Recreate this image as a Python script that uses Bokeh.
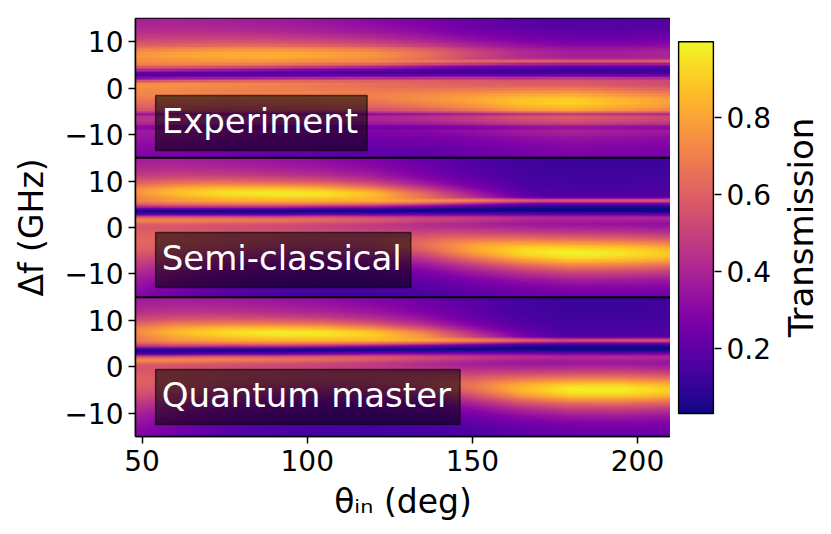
import numpy as np
from bokeh.plotting import figure
from bokeh.models import LinearColorMapper, FixedTicker, Span, Label, Range1d
from bokeh.layouts import row
from bokeh.palettes import Plasma256
from bokeh.embed import file_html
from bokeh.resources import INLINE

# ---------------- data ----------------
theta_knots = [48, 60, 75, 90, 105, 120, 135, 150, 165, 180, 195, 210]
x_ticks = [50, 100, 150, 200]
f_ticks = [-10, 0, 10]
cbar_ticks = [0.2, 0.4, 0.6, 0.8]
panel_names = ["Experiment", "Semi-classical", "Quantum master"]
label_bottoms = [61.6, 32.1, 2.6]

# Experiment
exp_top_bg = [0.30, 0.30, 0.29, 0.27, 0.25, 0.22, 0.19, 0.15, 0.12, 0.10, 0.10, 0.11]
exp_bot_bg = [0.22, 0.20, 0.17, 0.15, 0.13, 0.12, 0.12, 0.14, 0.16, 0.18, 0.18, 0.18]
exp_up_peak = [0.76, 0.79, 0.82, 0.83, 0.80, 0.76, 0.66, 0.52, 0.42, 0.38, 0.38, 0.40]
exp_up_center = [7.2, 7.2, 7.2, 7.2, 7.2, 7.2, 7.3, 7.4, 7.5, 7.5, 7.5, 7.5]
exp_up_gamma = [2.6, 2.6, 2.6, 2.6, 2.6, 2.6, 2.5, 2.5, 2.5, 2.5, 2.5, 2.5]
exp_line_amp = [0.05, 0.05, 0.05, 0.05, 0.06, 0.10, 0.14, 0.20, 0.24, 0.25, 0.25, 0.25]
exp_line_center = [5.3, 5.3, 5.3, 5.3, 5.4, 5.4, 5.5, 5.5, 5.6, 5.6, 5.6, 5.6]
exp_gap_center = [2.8, 2.9, 3.0, 3.1, 3.2, 3.3, 3.4, 3.5, 3.5, 3.6, 3.6, 3.6]
exp_edge_amp = [0.10, 0.10, 0.10, 0.10, 0.10, 0.10, 0.10, 0.10, 0.10, 0.10, 0.10, 0.10]
exp_lo_peak = [0.72, 0.72, 0.70, 0.70, 0.70, 0.70, 0.74, 0.80, 0.88, 0.91, 0.85, 0.79]
exp_lo_center = [-1.0, -1.0, -1.2, -1.5, -1.8, -2.0, -2.3, -2.6, -2.9, -3.0, -3.0, -3.0]
exp_lo_gamma = [5.5, 5.5, 5.2, 5.0, 4.8, 4.6, 4.4, 4.3, 4.2, 4.2, 4.2, 4.2]
exp_dark_lines = [-5.7, -8.4]

# Semi-classical
semi_top_bg = [0.28, 0.28, 0.26, 0.24, 0.22, 0.20, 0.16, 0.12, 0.09, 0.08, 0.08, 0.09]
semi_bot_bg = [0.20, 0.15, 0.10, 0.08, 0.07, 0.07, 0.08, 0.09, 0.10, 0.10, 0.11, 0.12]
semi_up_peak = [0.75, 0.86, 0.94, 0.97, 0.95, 0.86, 0.65, 0.42, 0.22, 0.12, 0.10, 0.10]
semi_up_center = [7.6, 7.5, 7.4, 7.3, 7.2, 7.0, 6.7, 6.4, 6.2, 6.0, 6.0, 6.0]
semi_up_gamma = [2.8, 2.7, 2.6, 2.5, 2.5, 2.4, 2.3, 2.2, 2.0, 2.0, 2.0, 2.0]
semi_line_amp = [0.05, 0.05, 0.05, 0.05, 0.05, 0.10, 0.18, 0.30, 0.38, 0.40, 0.40, 0.40]
semi_line_center = [5.6, 5.6, 5.6, 5.6, 5.6, 5.6, 5.6, 5.7, 5.7, 5.7, 5.7, 5.7]
semi_gap_center = [3.4, 3.4, 3.4, 3.4, 3.5, 3.5, 3.6, 3.7, 3.8, 3.8, 3.8, 3.8]
semi_edge_amp = [0.18, 0.18, 0.18, 0.17, 0.16, 0.15, 0.14, 0.14, 0.14, 0.14, 0.14, 0.14]
semi_lo_peak = [0.62, 0.60, 0.57, 0.55, 0.54, 0.55, 0.63, 0.80, 0.93, 0.98, 0.95, 0.88]
semi_lo_center = [-3.5, -3.2, -2.8, -2.5, -2.5, -3.0, -3.8, -4.6, -5.2, -5.6, -5.6, -5.6]
semi_lo_gamma = [6.5, 6.0, 5.5, 5.2, 4.8, 4.5, 4.2, 4.0, 3.9, 3.9, 3.9, 3.9]

# Quantum master
qm_top_bg = [0.28, 0.28, 0.27, 0.25, 0.23, 0.21, 0.18, 0.14, 0.10, 0.08, 0.08, 0.09]
qm_bot_bg = [0.20, 0.15, 0.10, 0.08, 0.07, 0.07, 0.07, 0.08, 0.09, 0.10, 0.11, 0.12]
qm_up_peak = [0.72, 0.85, 0.93, 0.97, 0.96, 0.90, 0.75, 0.50, 0.28, 0.15, 0.12, 0.12]
qm_up_center = [7.5, 7.4, 7.3, 7.2, 7.1, 6.9, 6.6, 6.3, 6.0, 5.9, 5.9, 5.9]
qm_up_gamma = [2.8, 2.7, 2.6, 2.5, 2.5, 2.4, 2.3, 2.1, 1.9, 1.8, 1.8, 1.8]
qm_line_amp = [0.05, 0.05, 0.05, 0.05, 0.05, 0.08, 0.14, 0.26, 0.36, 0.40, 0.40, 0.40]
qm_line_center = [5.6, 5.6, 5.6, 5.6, 5.6, 5.6, 5.6, 5.6, 5.6, 5.6, 5.6, 5.6]
qm_gap_center = [3.3, 3.3, 3.4, 3.4, 3.5, 3.6, 3.7, 3.8, 3.9, 3.9, 3.9, 3.9]
qm_edge_amp = [0.20, 0.20, 0.20, 0.18, 0.17, 0.16, 0.14, 0.14, 0.14, 0.14, 0.14, 0.14]
qm_lo_peak = [0.60, 0.58, 0.55, 0.53, 0.52, 0.52, 0.55, 0.66, 0.85, 0.97, 0.97, 0.90]
qm_lo_center = [-3.5, -3.2, -2.8, -2.5, -2.5, -2.8, -3.4, -4.2, -4.8, -5.0, -5.0, -5.0]
qm_lo_gamma = [6.5, 6.0, 5.5, 5.2, 4.8, 4.5, 4.2, 4.0, 3.8, 3.7, 3.7, 3.7]

theta_min, theta_max = 48, 210
f_min, f_max = -15, 15
c_low, c_high = 0.031, 0.997


def build(top, bot, up_pk, up_c, up_g, line_a, line_c, gap_c, edge_a,
          lo_pk, lo_c, lo_g, gap_s, gap_d, ncol, nrow, dark=()):
    k = np.array(theta_knots, float)
    dth = (theta_max - theta_min) / ncol
    df = (f_max - f_min) / nrow
    th = theta_min + dth * (np.arange(ncol) + 0.5)
    ff = f_min + df * (np.arange(nrow) + 0.5)

    def I(a):
        return np.interp(th, k, np.asarray(a, float))[None, :]

    F = ff[:, None]
    tp, bt = I(top), I(bot)

    def bgat(c):
        return bt + (tp - bt) * (c + 15) / 30

    uc, lc, gc = I(up_c), I(lo_c), I(gap_c)
    ug, lg = I(up_g), I(lo_g)
    # band heights chosen so that each band reaches its read peak value
    du = I(up_pk) - bgat(uc)
    dl = I(lo_pk) - bgat(lc)
    a = 1 / (1 + ((uc - lc) / lg) ** 2)
    b = 1 / (1 + ((lc - uc) / ug) ** 2)
    Au = np.clip((du - a * dl) / (1 - a * b), 0, None)
    Al = np.clip((dl - b * du) / (1 - a * b), 0, None)
    T = bgat(F)
    T = T + Au / (1 + ((F - uc) / ug) ** 2)
    T = T + Al / (1 + ((F - lc) / lg) ** 2)
    T = T + I(line_a) * np.exp(-0.5 * ((F - I(line_c)) / 0.35) ** 2)
    T = T + I(edge_a) * np.exp(-0.5 * ((F - (gc - 1.8)) / 0.6) ** 2)
    T = T * (1 - gap_d * np.exp(-0.5 * ((F - gc) / gap_s) ** 2))
    for d in dark:
        T = T * (1 - 0.3 * np.exp(-0.5 * ((F - d) / 0.35) ** 2))
    return np.clip(T, c_low, c_high)


img_exp = build(exp_top_bg, exp_bot_bg, exp_up_peak, exp_up_center, exp_up_gamma,
                exp_line_amp, exp_line_center, exp_gap_center, exp_edge_amp,
                exp_lo_peak, exp_lo_center, exp_lo_gamma, 0.9, 0.75, 162, 50,
                dark=exp_dark_lines)
img_semi = build(semi_top_bg, semi_bot_bg, semi_up_peak, semi_up_center, semi_up_gamma,
                 semi_line_amp, semi_line_center, semi_gap_center, semi_edge_amp,
                 semi_lo_peak, semi_lo_center, semi_lo_gamma, 0.65, 0.92, 324, 240)
img_qm = build(qm_top_bg, qm_bot_bg, qm_up_peak, qm_up_center, qm_up_gamma,
               qm_line_amp, qm_line_center, qm_gap_center, qm_edge_amp,
               qm_lo_peak, qm_lo_center, qm_lo_gamma, 0.65, 0.92, 324, 240)

FONT = "DejaVu Sans"
mapper = LinearColorMapper(palette=Plasma256, low=c_low, high=c_high)

TOP, BOTTOM, H = 18, 98, 534

p = figure(width=670, height=H, x_range=Range1d(theta_min, theta_max),
           y_range=Range1d(0, 90), output_backend="svg", toolbar_location=None,
           min_border_left=135, min_border_right=0, min_border_top=TOP,
           min_border_bottom=BOTTOM)

offsets = [75, 45, 15]
images = [img_exp, img_semi, img_qm]
for img, off in zip(images, offsets):
    p.image(image=[img], x=theta_min, y=off + f_min, dw=theta_max - theta_min,
            dh=f_max - f_min, color_mapper=mapper)

for yb in (30, 60):
    p.add_layout(Span(location=yb, dimension="width", line_color="black", line_width=2))

p.grid.visible = False
p.outline_line_color = "black"
p.outline_line_width = 1.5
p.outline_line_alpha = 1.0

yt, yl = [], {}
for off in offsets:
    for t in f_ticks:
        yt.append(off + t)
        yl[off + t] = ("\u2212" + str(-t)) if t < 0 else str(t)
p.yaxis.ticker = FixedTicker(ticks=sorted(yt))
p.yaxis.major_label_overrides = yl
p.xaxis.ticker = FixedTicker(ticks=x_ticks)


def style_axis(ax):
    ax.axis_line_color = "black"
    ax.axis_line_width = 1.5
    ax.major_tick_out = 7
    ax.major_tick_in = 0
    ax.major_tick_line_width = 1.5
    ax.major_tick_line_color = "black"
    ax.minor_tick_line_color = None
    ax.major_label_text_font = FONT
    ax.major_label_text_font_size = "28px"
    ax.major_label_text_color = "black"
    ax.axis_label_text_font = FONT
    ax.axis_label_text_font_size = "33px"
    ax.axis_label_text_font_style = "normal"
    ax.axis_label_text_color = "black"


style_axis(p.xaxis[0])
style_axis(p.yaxis[0])
p.xaxis.axis_label = "\u03b8\u1d62\u2099 (deg)"
p.yaxis.axis_label = "\u0394f (GHz)"
p.xaxis.major_label_standoff = 6
p.xaxis.axis_label_standoff = 8
p.yaxis.major_label_standoff = 5
p.yaxis.axis_label_standoff = 10

for name, yb in zip(panel_names, label_bottoms):
    p.add_layout(Label(x=54.1, y=yb, text=name, text_color="white",
                       text_font=FONT, text_font_size="34px",
                       text_baseline="bottom", text_align="left",
                       background_fill_color="black", background_fill_alpha=0.55,
                       border_line_color="black", border_line_alpha=0.6,
                       border_line_width=1.5, padding=(6, 9, 6, 9)))

# colour bar as its own small figure (frame aligned with the main frame)
px_per_unit = 385.0
cb_lo = 0.2 - (436 - 348) / px_per_unit
cb_hi = 0.8 + (117 - 18) / px_per_unit
cb = figure(width=106, height=H, x_range=Range1d(-0.03, 1.03), y_range=Range1d(cb_lo, cb_hi),
            y_axis_location="right", output_backend="svg", toolbar_location=None,
            min_border_left=7, min_border_right=62, min_border_top=TOP,
            min_border_bottom=BOTTOM)
grad = np.linspace(c_low, c_high, 256).reshape(256, 1)
cb.image(image=[grad], x=0, y=c_low, dw=1, dh=c_high - c_low, color_mapper=mapper)
cb.quad(left=[0], right=[1], bottom=[c_low], top=[c_high], fill_color=None,
        line_color="black", line_width=1.5)
cb.grid.visible = False
cb.xaxis.visible = False
cb.outline_line_color = None
ay = cb.yaxis[0]
style_axis(ay)
ay.ticker = FixedTicker(ticks=cbar_ticks)
ay.axis_line_color = None
ay.major_label_standoff = 5

# third narrow figure carrying only the rotated colour-bar title
lab = figure(width=49, height=H, x_range=Range1d(0, 1), y_range=Range1d(0, 1),
             output_backend="svg", toolbar_location=None,
             min_border_left=44, min_border_right=0, min_border_top=TOP,
             min_border_bottom=BOTTOM)
lab.xaxis.visible = False
lab.grid.visible = False
lab.outline_line_color = None
la = lab.yaxis[0]
la.axis_label = "Transmission"
la.axis_label_text_font = FONT
la.axis_label_text_font_size = "34px"
la.axis_label_text_font_style = "normal"
la.axis_label_text_color = "black"
la.axis_label_standoff = 0
la.axis_line_color = None
la.major_tick_line_color = None
la.minor_tick_line_color = None
la.major_label_text_font_size = "0px"
la.major_label_standoff = 0
la.major_tick_out = 0
la.ticker = FixedTicker(ticks=[])
lab.scatter(x=[0.5], y=[0.5], size=0, alpha=0)

layout = row(p, cb, lab)
open("out.html", "w").write(file_html(layout, INLINE))
